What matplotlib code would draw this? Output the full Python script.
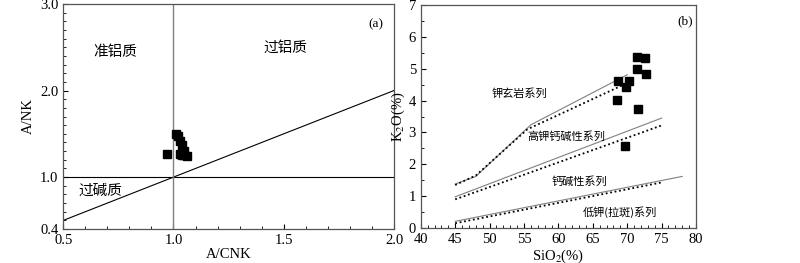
import numpy as np
import matplotlib.pyplot as plt
from matplotlib.ticker import MultipleLocator

plt.rcParams['font.family'] = ['Liberation Serif', 'Noto Sans CJK SC']
plt.rcParams['mathtext.fontset'] = 'stix'
cjk = 'Noto Sans CJK SC'

# (a) A/CNK - A/NK
acnk = [0.97, 1.01, 1.02, 1.03, 1.04, 1.05, 1.03, 1.04, 1.05, 1.06]
anK = [1.27, 1.50, 1.47, 1.42, 1.37, 1.30, 1.27, 1.25, 1.26, 1.24]

# (b) SiO2 - K2O
sio2 = [68.5, 68.7, 70.2, 69.8, 71.4, 72.6, 71.4, 72.7, 71.6, 69.7]
k2o = [4.02, 4.60, 4.60, 4.42, 5.38, 5.33, 4.98, 4.84, 3.73, 2.56]

# series boundaries (solid / dotted)
sho_x = [45, 48, 56, 70]
sho_y = [1.38, 1.62, 3.24, 4.81]
sho_dx = [45, 48, 55.5, 70]
sho_dy = [1.35, 1.65, 3.10, 4.55]
hk_x = [45, 75]
hk_y = [0.98, 3.45]
hk_dx = [45, 75]
hk_dy = [0.90, 3.22]
lk_x = [45, 78]
lk_y = [0.21, 1.62]
lk_dx = [45, 75]
lk_dy = [0.15, 1.43]

fig = plt.figure(figsize=(8, 2.63), dpi=100)
ax1 = fig.add_axes([0.079, 0.129, 0.4135, 0.856])
ax2 = fig.add_axes([0.526, 0.133, 0.344, 0.848])

# --- panel a
ax1.plot([0.5, 2.0], [0.5, 2.0], color='black', lw=0.8)
ax1.axhline(1.0, color='black', lw=0.8)
ax1.axvline(1.0, color='gray', lw=1.0)
ax1.plot(acnk, anK, 's', color='black', ms=6)
ax1.set_xlim(0.5, 2.0)
ax1.set_ylim(0.4, 3.0)
ax1.set_xticks([0.5, 1.0, 1.5, 2.0])
ax1.set_yticks([0.4, 1.0, 2.0, 3.0])
ax1.xaxis.set_minor_locator(MultipleLocator(0.1))
ax1.yaxis.set_minor_locator(MultipleLocator(0.1))
ax1.tick_params(direction='in', which='both', top=False, right=False, labelsize=10.5)
ax1.tick_params(which='minor', length=2)
ax1.set_xlabel('A/CNK', fontsize=10.5, labelpad=1)
ax1.set_ylabel('A/NK', fontsize=10.5)
ax1.text(0.735, 2.45, '准铝质', fontsize=10.5, family=cjk, ha='center', va='center')
ax1.text(1.506, 2.49, '过铝质', fontsize=10.5, family=cjk, ha='center', va='center')
ax1.text(0.668, 0.84, '过碱质', fontsize=10.5, family=cjk, ha='center', va='center')
ax1.text(1.918, 2.77, '(a)', fontsize=9.5, ha='center', va='center')

# --- panel b
ax2.plot(sho_x, sho_y, color='gray', lw=0.8)
ax2.plot(sho_dx, sho_dy, color='black', lw=1.3, ls=(0, (1, 1.5)))
ax2.plot(hk_x, hk_y, color='gray', lw=0.8)
ax2.plot(hk_dx, hk_dy, color='black', lw=1.3, ls=(0, (1, 1.5)))
ax2.plot(lk_x, lk_y, color='gray', lw=0.8)
ax2.plot(lk_dx, lk_dy, color='black', lw=1.3, ls=(0, (1, 1.5)))
ax2.plot(sio2, k2o, 's', color='black', ms=6)
ax2.set_xlim(40, 80)
ax2.set_ylim(0, 7)
ax2.xaxis.set_major_locator(MultipleLocator(5))
ax2.xaxis.set_minor_locator(MultipleLocator(1))
ax2.yaxis.set_major_locator(MultipleLocator(1))
ax2.yaxis.set_minor_locator(MultipleLocator(0.5))
ax2.tick_params(direction='in', which='both', top=False, right=False, labelsize=10.5)
ax2.tick_params(which='minor', length=2)
ax2.set_xlabel('SiO$_2$(%)', fontsize=10.5, labelpad=1)
ax2.set_ylabel('K$_2$O(%)', fontsize=10.5, labelpad=1)
ax2.text(54.3, 4.23, '钾玄岩系列', fontsize=8, family=cjk, ha='center', va='center')
ax2.text(61.1, 2.87, '高钾钙碱性系列', fontsize=8, family=cjk, ha='center', va='center')
ax2.text(63.1, 1.46, '钙碱性系列', fontsize=8, family=cjk, ha='center', va='center')
ax2.text(69.0, 0.49, '低钾(拉斑)系列', fontsize=8, family=cjk, ha='center', va='center')
ax2.text(78.4, 6.48, '(b)', fontsize=9.5, ha='center', va='center')

for ax in (ax1, ax2):
    for s in ax.spines.values():
        s.set_color('#555555')
        s.set_linewidth(0.9)

fig.savefig('out.png', dpi=100)
